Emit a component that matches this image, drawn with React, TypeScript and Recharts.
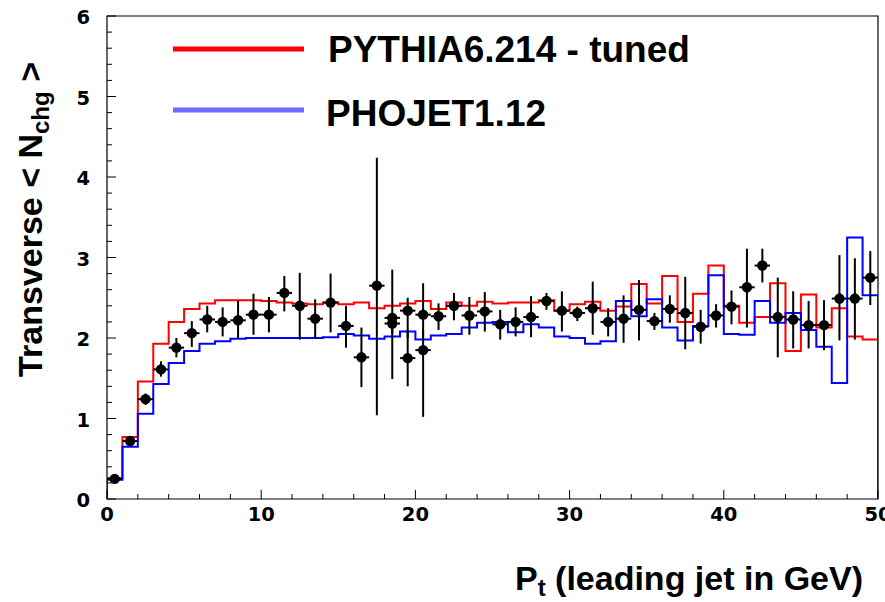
import React from 'react';
import {
  ComposedChart,
  Line,
  Scatter,
  XAxis,
  YAxis,
  ErrorBar,
  ReferenceArea,
  Legend,
  Label,
} from 'recharts';

// Bin lower edges (GeV), width 1 GeV
const BIN_LOW_EDGES = [
  0, 1, 2, 3, 4, 5, 6, 7, 8, 9,
  10, 11, 12, 13, 14, 15, 16, 17, 18, 19,
  20, 21, 22, 23, 24, 25, 26, 27, 28, 29,
  30, 31, 32, 33, 34, 35, 36, 37, 38, 39,
  40, 41, 42, 43, 44, 45, 46, 47, 48, 49,
];
const BIN_WIDTH = 1;

// PYTHIA6.214 - tuned (red histogram)
const PYTHIA = [
  0.26, 0.77, 1.46, 1.93, 2.2, 2.36, 2.43, 2.47, 2.47, 2.47,
  2.46, 2.44, 2.43, 2.42, 2.44, 2.42, 2.44, 2.37, 2.4, 2.43,
  2.46, 2.36, 2.44, 2.4, 2.45, 2.43, 2.44, 2.44, 2.47, 2.34,
  2.42, 2.45, 2.34, 2.39, 2.67, 2.43, 2.77, 2.2, 2.55, 2.9,
  2.4, 2.19, 2.26, 2.68, 1.84, 2.54, 2.13, 2.37, 2.02, 1.98,
];

// PHOJET1.12 (blue histogram)
const PHOJET = [
  0.24, 0.65, 1.06, 1.43, 1.69, 1.84, 1.93, 1.96, 1.99, 2.0,
  2.0, 2.0, 2.0, 2.0, 2.01, 2.05, 2.03, 1.99, 2.02, 2.08,
  1.98, 2.03, 2.05, 2.13, 2.19, 2.2, 2.07, 2.17, 2.13, 2.02,
  2.0, 1.93, 1.96, 2.46, 2.27, 2.48, 2.13, 1.97, 2.15, 2.78,
  2.05, 2.04, 2.46, 2.19, 2.31, 2.1, 1.89, 1.44, 3.25, 2.53,
];

// Data points (bin centres), values and error-bar limits
const DATA_PT = [
  0.5, 1.5, 2.5, 3.5, 4.5, 5.5, 6.5, 7.5, 8.5, 9.5,
  10.5, 11.5, 12.5, 13.5, 14.5, 15.5, 16.5, 17.5, 18.5, 19.5,
  20.5, 21.5, 22.5, 23.5, 24.5, 25.5, 26.5, 27.5, 28.5, 29.5,
  30.5, 31.5, 32.5, 33.5, 34.5, 35.5, 36.5, 37.5, 38.5, 39.5,
  40.5, 41.5, 42.5, 43.5, 44.5, 45.5, 46.5, 47.5, 48.5, 49.5,
  18.5, 19.5, 20.5,
];
const DATA_Y = [
  0.25, 0.72, 1.24, 1.61, 1.88, 2.06, 2.23, 2.2, 2.22, 2.29,
  2.29, 2.56, 2.4, 2.24, 2.44, 2.15, 1.76, 2.65, 2.25, 2.34,
  2.29, 2.27, 2.4, 2.28, 2.33, 2.17, 2.2, 2.26, 2.46, 2.34,
  2.31, 2.37, 2.2, 2.24, 2.35, 2.21, 2.36, 2.31, 2.14, 2.28,
  2.39, 2.63, 2.9, 2.26, 2.23, 2.16, 2.16, 2.49, 2.49, 2.75,
  2.18, 1.75, 1.85,
];
const DATA_LO = [
  0.22, 0.67, 1.17, 1.52, 1.76, 1.89, 2.07, 2.02, 1.99, 2.04,
  2.07, 2.33, 1.98, 1.99, 2.07, 1.88, 1.39, 1.04, 2.05, 2.0,
  2.0, 2.1, 2.22, 2.04, 2.08, 1.98, 2.02, 2.01, 2.35, 2.08,
  2.21, 2.04, 2.02, 1.94, 1.97, 2.1, 2.19, 1.86, 1.93, 2.13,
  2.17, 2.13, 2.69, 1.76, 1.87, 1.87, 1.85, 1.97, 1.98, 2.41,
  1.49, 1.4, 1.02,
];
const DATA_HI = [
  0.28, 0.77, 1.31, 1.71, 2.0, 2.21, 2.4, 2.38, 2.46, 2.55,
  2.51, 2.77, 2.81, 2.48, 2.8, 2.4, 2.13, 4.24, 2.85, 2.5,
  2.68, 2.43, 2.56, 2.51, 2.57, 2.35, 2.38, 2.52, 2.56, 2.58,
  2.39, 2.7, 2.37, 2.53, 2.72, 2.31, 2.53, 2.76, 2.35, 2.42,
  2.59, 3.11, 3.11, 2.75, 2.58, 2.46, 2.47, 3.03, 2.99, 3.08,
  2.2, 2.1, 2.1,
];

const X_TICKS = [0, 2, 4, 6, 8, 10, 12, 14, 16, 18, 20, 22, 24, 26, 28, 30, 32, 34, 36, 38, 40, 42, 44, 46, 48, 50];
const Y_TICKS = [
  0, 0.2, 0.4, 0.6, 0.8, 1, 1.2, 1.4, 1.6, 1.8, 2, 2.2, 2.4, 2.6, 2.8, 3,
  3.2, 3.4, 3.6, 3.8, 4, 4.2, 4.4, 4.6, 4.8, 5, 5.2, 5.4, 5.6, 5.8, 6,
];
const X_MAJOR_STEP = 10;
const SERIES_NAMES = ['PYTHIA6.214 - tuned', 'PHOJET1.12'];

const RED = '#ff0000';
const BLUE = '#0000ff';
const LEGEND_BLUE = '#6b6bff';

function histRows(vals: number[]) {
  const n = vals.length;
  const rows: { x: number; y: number }[] = [{ x: BIN_LOW_EDGES[0], y: 0 }];
  vals.forEach((v, i) => rows.push({ x: BIN_LOW_EDGES[i], y: v }));
  const last = BIN_LOW_EDGES[n - 1] + BIN_WIDTH;
  rows.push({ x: last, y: vals[n - 1] });
  rows.push({ x: last, y: 0 });
  return rows;
}

const pythiaRows = histRows(PYTHIA);
const phojetRows = histRows(PHOJET);
const pointRows = DATA_PT.map((x, i) => ({
  x,
  y: DATA_Y[i],
  err: [DATA_Y[i] - DATA_LO[i], DATA_HI[i] - DATA_Y[i]],
  xerr: BIN_WIDTH / 2,
}));

const TICK_FONT = 'DejaVu Sans';
const TITLE_FONT = '"Liberation Sans", Arial, sans-serif';

const YTick = (props: any) => {
  const { x, y, payload } = props;
  const v = payload.value;
  const major = Math.abs(v - Math.round(v)) < 1e-6;
  return (
    <g>
      <line x1={x} y1={y} x2={x + (major ? 9 : 5)} y2={y} stroke="#000" strokeWidth={1} />
      {major && (
        <text x={x - 17} y={y + 8} textAnchor="end" fontFamily={TICK_FONT} fontWeight="bold" fontSize={19.5} fill="#000">
          {Math.round(v)}
        </text>
      )}
    </g>
  );
};

const XTick = (props: any) => {
  const { x, y, payload } = props;
  const v = payload.value;
  const major = Math.abs(v % X_MAJOR_STEP) < 1e-6;
  return (
    <g>
      <line x1={x} y1={y} x2={x} y2={y - (major ? 9 : 5)} stroke="#000" strokeWidth={1} />
      {major && (
        <text x={x} y={y + 22} textAnchor="middle" fontFamily={TICK_FONT} fontWeight="bold" fontSize={19.5} fill="#000">
          {Math.round(v)}
        </text>
      )}
    </g>
  );
};

const YTitle = () => (
  <text
    transform="translate(42,62) rotate(-90)"
    textAnchor="end"
    fontFamily={TITLE_FONT}
    fontWeight="bold"
    fontSize={34}
    fill="#000"
  >
    {'Transverse < N'}
    <tspan dy={7} fontSize={24}>chg</tspan>
    <tspan dy={-7}>{' >'}</tspan>
  </text>
);

const XTitle = () => (
  <text x={863} y={590} textAnchor="end" fontFamily={TITLE_FONT} fontWeight="bold" fontSize={34} fill="#000">
    P
    <tspan dy={6} fontSize={24}>t</tspan>
    <tspan dy={-6}>{' (leading jet in GeV)'}</tspan>
  </text>
);

const LegendContent = () => (
  <svg width={885} height={140} style={{ display: 'block' }}>
    <line x1={173} x2={304} y1={49} y2={49} stroke={RED} strokeWidth={5} />
    <text x={328} y={61.5} fontFamily={TITLE_FONT} fontWeight="bold" fontSize={37} fill="#000">
      {SERIES_NAMES[0]}
    </text>
    <line x1={173} x2={304} y1={110} y2={110} stroke={LEGEND_BLUE} strokeWidth={5} />
    <text x={326} y={126} fontFamily={TITLE_FONT} fontWeight="bold" fontSize={37} fill="#000">
      {SERIES_NAMES[1]}
    </text>
  </svg>
);

const Dot = (props: any) => <circle cx={props.cx} cy={props.cy} r={5.2} fill="#000" />;

export default function App() {
  return (
    <div style={{ position: 'absolute', left: 0, top: 0, width: 885, height: 602, background: '#fff' }}>
      <ComposedChart width={885} height={602} margin={{ top: 16, right: 7, bottom: 0, left: 0 }}>
        <XAxis
          dataKey="x"
          type="number"
          domain={[0, 50]}
          ticks={X_TICKS}
          interval={0}
          allowDataOverflow
          height={103}
          axisLine={false}
          tickLine={false}
          tickSize={0}
          tickMargin={0}
          tick={<XTick />}
        >
          <Label content={<XTitle />} />
        </XAxis>
        <YAxis
          dataKey="y"
          type="number"
          domain={[0, 6]}
          ticks={Y_TICKS}
          interval={0}
          allowDataOverflow
          width={107}
          axisLine={false}
          tickLine={false}
          tickSize={0}
          tickMargin={0}
          tick={<YTick />}
        >
          <Label content={<YTitle />} />
        </YAxis>
        <ReferenceArea x1={0} x2={50} y1={0} y2={6} fill="none" fillOpacity={0} stroke="#000" strokeWidth={1.2} />
        <Line
          data={pythiaRows}
          dataKey="y"
          type="stepAfter"
          stroke={RED}
          strokeWidth={2}
          dot={false}
          activeDot={false}
          isAnimationActive={false}
          name={SERIES_NAMES[0]}
        />
        <Line
          data={phojetRows}
          dataKey="y"
          type="stepAfter"
          stroke={BLUE}
          strokeWidth={2}
          dot={false}
          activeDot={false}
          isAnimationActive={false}
          name={SERIES_NAMES[1]}
        />
        <Scatter data={pointRows} dataKey="y" shape={<Dot />} isAnimationActive={false} legendType="none">
          <ErrorBar dataKey="err" direction="y" width={0} stroke="#000" strokeWidth={2} isAnimationActive={false} />
          <ErrorBar dataKey="xerr" direction="x" width={0} stroke="#000" strokeWidth={2} isAnimationActive={false} />
        </Scatter>
        <Legend
          layout="horizontal"
          verticalAlign="middle"
          align="center"
          wrapperStyle={{ position: 'absolute', left: 0, top: 0, width: 885, height: 140, pointerEvents: 'none' }}
          content={<LegendContent />}
        />
      </ComposedChart>
    </div>
  );
}
